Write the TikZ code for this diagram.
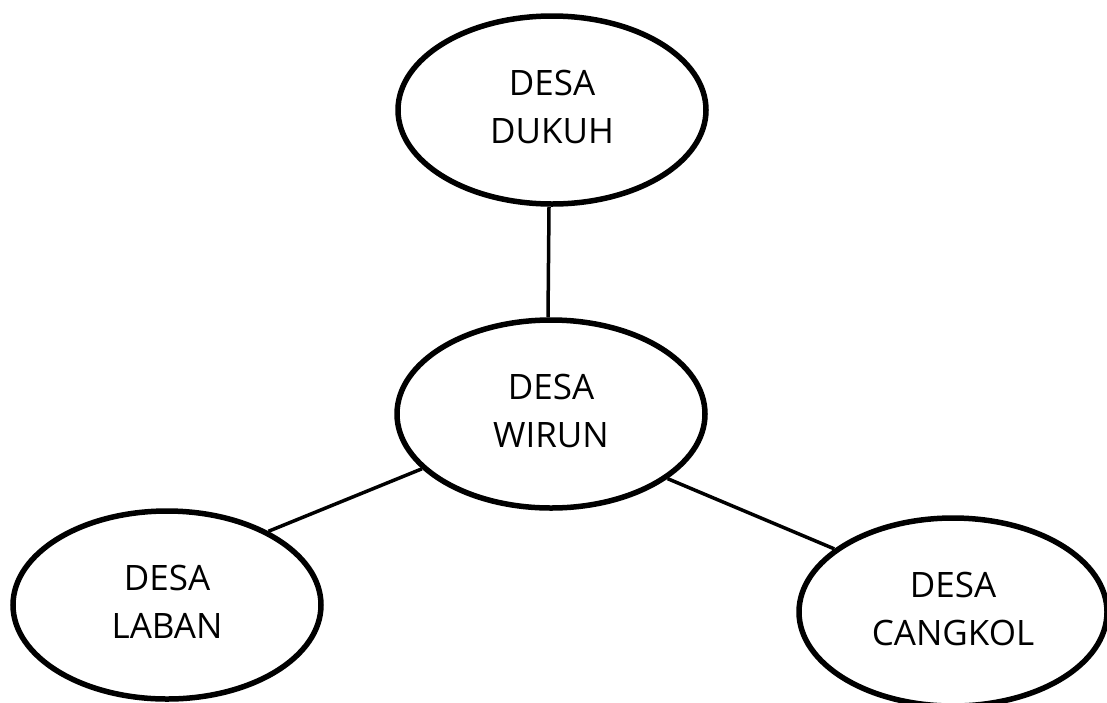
\documentclass[tikz,border=0pt]{standalone}
\usepackage{fontspec}
\setmainfont{Open Sans}
\usetikzlibrary{shapes.geometric}
\newcommand{\twolines}[2]{\raisebox{6pt}{\begin{tabular}{@{}c@{}}#1\\#2\end{tabular}}}
\begin{document}
\begin{tikzpicture}[x=1pt,y=-1pt,
  village/.style={ellipse, draw=black, line width=5.5pt, fill=white,
    minimum width=308pt, minimum height=188pt, inner sep=0pt,
    font=\fontsize{35}{48}\selectfont},
  link/.style={line width=3.5pt, black}]
\useasboundingbox (0,0) rectangle (1107,702);
\fill[white] (0,0) rectangle (1107,702);
\node[village] (dukuh) at (552,110) {\twolines{DESA}{DUKUH}};
\node[village] (wirun) at (551,414) {\twolines{DESA}{WIRUN}};
\node[village] (laban) at (167,605) {\twolines{DESA}{LABAN}};
\node[village] (cangkol) at (953,612) {\twolines{DESA}{CANGKOL}};
\draw[link] ([xshift=-3pt]dukuh.south) -- ([xshift=-3pt]wirun.north);
\draw[link] (wirun.203.5) -- (laban.36.9);
\draw[link] (wirun.331.7) -- (cangkol.152);
\end{tikzpicture}
\end{document}
